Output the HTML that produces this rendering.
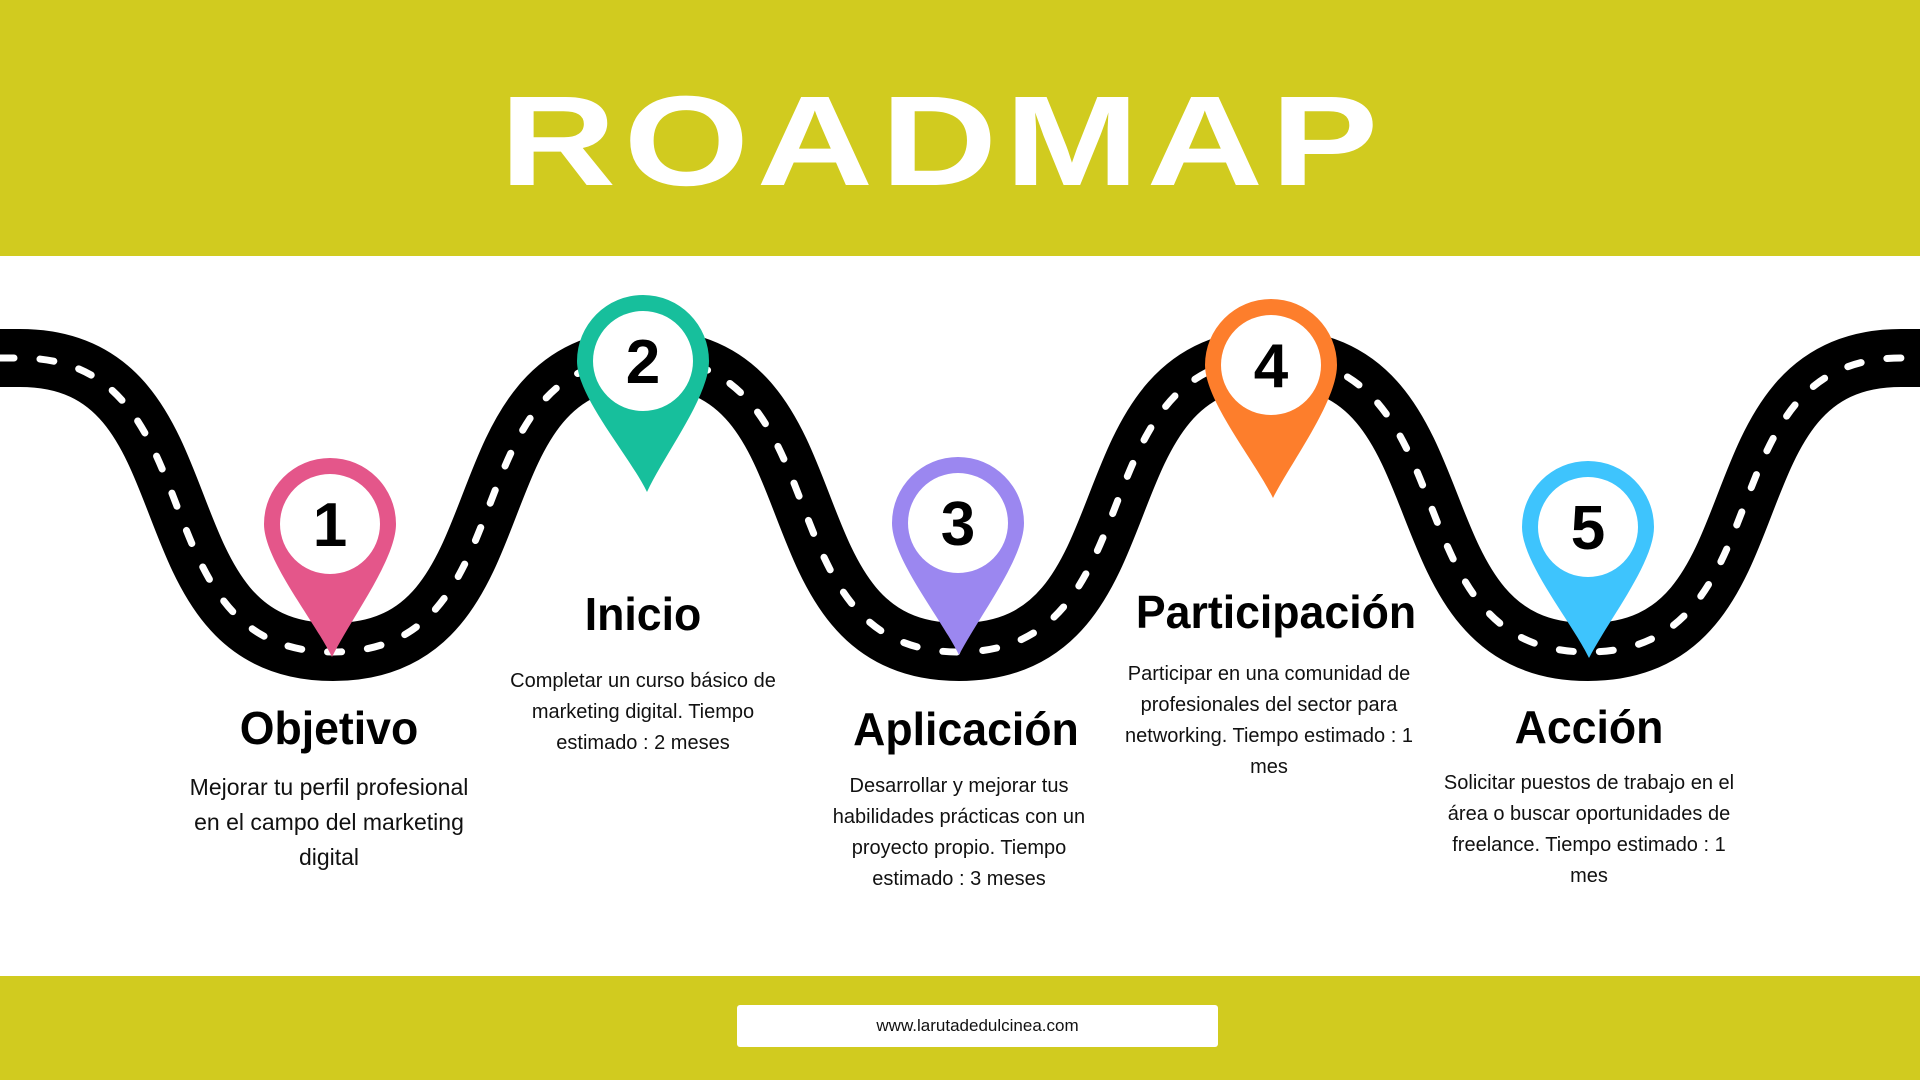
<!DOCTYPE html>
<html><head><meta charset="utf-8"><style>
html,body{margin:0;padding:0;}
body{width:1920px;height:1080px;position:relative;overflow:hidden;background:#fff;font-family:"Liberation Sans",sans-serif;}
.hdr{position:absolute;left:0;top:0;width:1920px;height:256px;background:#d1cb1f;}
.title{position:absolute;left:-25px;width:1920px;top:72px;text-align:center;color:#fff;font-weight:bold;font-size:128px;letter-spacing:6px;line-height:140px;text-indent:6px;transform:scaleX(1.26);transform-origin:945px 0;}
.ftr{position:absolute;left:0;top:976px;width:1920px;height:104px;background:#d1cb1f;}
.box{position:absolute;left:737px;top:1005px;width:481px;height:42px;background:#fff;border-radius:3px;text-align:center;line-height:42px;font-size:17px;color:#111;}
.h{position:absolute;width:400px;text-align:center;font-weight:bold;font-size:46px;color:#000;line-height:50px;transform:scaleX(0.97);}
.d{position:absolute;width:400px;text-align:center;color:#111;}
svg{position:absolute;left:0;top:0;}
</style></head><body>
<div class="hdr"></div>
<div class="title">ROADMAP</div>
<svg width="1920" height="1080" viewBox="0 0 1920 1080">
<path d="M -40,358 L 20,358 C 220,358 133,652 333,652 C 533,652 446,358 646,358 C 846,358 759,652 959,652 C 1159,652 1073,358 1273,358 C 1473,358 1388,652 1588,652 C 1788,652 1701,358 1901,358 L 1960,358" fill="none" stroke="#000" stroke-width="58"/>
<path d="M -40,358 L 20,358 C 220,358 133,652 333,652 C 533,652 446,358 646,358 C 846,358 759,652 959,652 C 1159,652 1073,358 1273,358 C 1473,358 1388,652 1588,652 C 1788,652 1701,358 1901,358 L 1960,358" fill="none" stroke="#fff" stroke-width="7" stroke-dasharray="14 26" stroke-linecap="round"/>
<g font-family="Liberation Sans, sans-serif" font-weight="bold" font-size="62" text-anchor="middle">
<path d="M264,524 A66,66 0 0 1 396,524 C396,560 350,620 332,657 C314,620 264,560 264,524 Z" fill="#e4568a"/>
<circle cx="330" cy="524" r="50" fill="#fff"/><text x="330" y="546">1</text>
<path d="M577,361 A66,66 0 0 1 709,361 C709,397 664,455 647,492 C629,455 577,397 577,361 Z" fill="#17bf9c"/>
<circle cx="643" cy="361" r="50" fill="#fff"/><text x="643" y="383">2</text>
<path d="M892,523 A66,66 0 0 1 1024,523 C1024,559 978,618 959,655 C941,618 892,559 892,523 Z" fill="#9b87f0"/>
<circle cx="958" cy="523" r="50" fill="#fff"/><text x="958" y="545">3</text>
<path d="M1205,365 A66,66 0 0 1 1337,365 C1337,401 1292,461 1273,498 C1255,461 1205,401 1205,365 Z" fill="#fd7e2c"/>
<circle cx="1271" cy="365" r="50" fill="#fff"/><text x="1271" y="387">4</text>
<path d="M1522,527 A66,66 0 0 1 1654,527 C1654,563 1608,621 1589,658 C1571,621 1522,563 1522,527 Z" fill="#3ec4fd"/>
<circle cx="1588" cy="527" r="50" fill="#fff"/><text x="1588" y="549">5</text>
</g>
</svg>
<div class="h" style="left:129px;top:703px;">Objetivo</div>
<div class="d" style="left:129px;top:770px;font-size:23px;line-height:35px;">Mejorar tu perfil profesional<br>en el campo del marketing<br>digital</div>
<div class="h" style="left:443px;top:589px;">Inicio</div>
<div class="d" style="left:443px;top:666px;font-size:20px;line-height:31px;">Completar un curso básico de<br>marketing digital. Tiempo<br>estimado : 2 meses</div>
<div class="h" style="left:766px;top:704px;">Aplicación</div>
<div class="d" style="left:759px;top:771px;font-size:20px;line-height:31px;">Desarrollar y mejorar tus<br>habilidades prácticas con un<br>proyecto propio. Tiempo<br>estimado : 3 meses</div>
<div class="h" style="left:1076px;top:587px;">Participación</div>
<div class="d" style="left:1069px;top:659px;font-size:20px;line-height:31px;">Participar en una comunidad de<br>profesionales del sector para<br>networking. Tiempo estimado : 1<br>mes</div>
<div class="h" style="left:1389px;top:702px;">Acción</div>
<div class="d" style="left:1389px;top:768px;font-size:20px;line-height:31px;">Solicitar puestos de trabajo en el<br>área o buscar oportunidades de<br>freelance. Tiempo estimado : 1<br>mes</div>
<div class="ftr"></div>
<div class="box">www.larutadedulcinea.com</div>
</body></html>
